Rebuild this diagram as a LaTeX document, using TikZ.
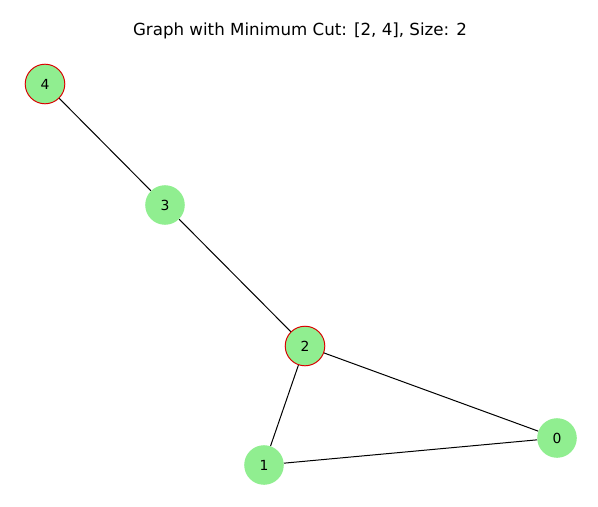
\documentclass[tikz,border=0pt]{standalone}
\usepackage{fontspec}
\setmainfont{DejaVu Sans}
\usepackage{xcolor}
\usepackage{tikz}
\usetikzlibrary{calc}
\usetikzlibrary{shapes}
\usetikzlibrary{positioning}
\definecolor{lightgreen}{HTML}{90EE90}
\tikzset{>=latex}
\tikzstyle{vertex} = [circle, fill=lightgreen, draw=none, minimum size=28.5pt, inner sep=0, font=\fontsize{10}{12}\selectfont]
\tikzstyle{cutvertex} = [vertex, draw=red!85!black, line width=0.7pt]
\tikzstyle{edge} = [-, draw=black, line width=0.72pt]

\begin{document}
\begin{tikzpicture}[x=0.72pt, y=-0.72pt]
\useasboundingbox (0, 0) rectangle (598, 506);
\node [draw=none, font=\fontsize{12}{14}\selectfont] (title) at (300, 31) {Graph with Minimum Cut: [2, 4], Size: 2};
\node [cutvertex] (n4) at (45, 84) {4};
\node [vertex] (n3) at (165, 205) {3};
\node [cutvertex] (n2) at (305, 346) {2};
\node [vertex] (n1) at (264, 465) {1};
\node [vertex] (n0) at (557, 438) {0};
\draw [edge] (n4) to (n3);
\draw [edge] (n3) to (n2);
\draw [edge] (n2) to (n1);
\draw [edge] (n2) to (n0);
\draw [edge] (n1) to (n0);
\end{tikzpicture}
\end{document}
